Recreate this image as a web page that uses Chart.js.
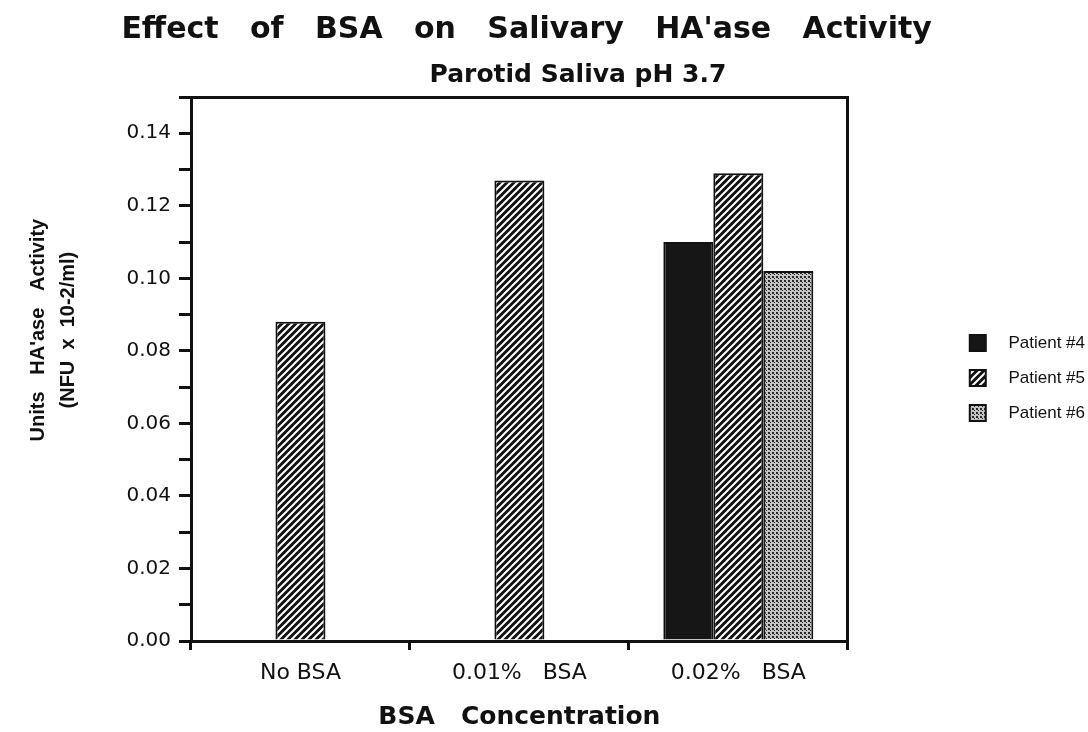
<!DOCTYPE html>
<html>
<head>
<meta charset="utf-8">
<title>Effect of BSA on Salivary HA'ase Activity</title>
<script src="https://cdn.jsdelivr.net/npm/chart.js@4.4.0/dist/chart.umd.min.js"></script>
<style>
    html, body { margin: 0; padding: 0; background: #fff; }
</style>
</head>
<body>
<canvas id="grafica" width="1088" height="732"></canvas>
<script>
// Data
const categorias = ["No BSA", "0.01%   BSA", "0.02%   BSA"];
const pacientes = ["Patient #4", "Patient #5", "Patient #6"];
const paciente4 = [null, null, 0.110];
const paciente5 = [0.088, 0.127, 0.129];
const paciente6 = [null, null, 0.102];
const ejeYMin = 0;
const ejeYMax = 0.15;
const ejeYPaso = 0.01;

// Fill patterns like the printed original
function patronRayas() {
    const c = document.createElement("canvas");
    c.width = 7; c.height = 7;
    const g = c.getContext("2d");
    g.fillStyle = "#111";
    g.fillRect(0, 0, 7, 7);
    g.strokeStyle = "#fff";
    g.lineWidth = 2;
    g.beginPath();
    g.moveTo(-1, 8); g.lineTo(8, -1);
    g.moveTo(-1, 1); g.lineTo(1, -1);
    g.moveTo(6, 8); g.lineTo(8, 6);
    g.stroke();
    return g.createPattern(c, "repeat");
}

function patronPuntos() {
    const c = document.createElement("canvas");
    c.width = 4; c.height = 4;
    const g = c.getContext("2d");
    g.fillStyle = "#c4c4c4";
    g.fillRect(0, 0, 4, 4);
    g.fillStyle = "#2a2a2a";
    g.fillRect(0, 0, 2, 2);
    g.fillRect(2, 2, 1, 1);
    return g.createPattern(c, "repeat");
}

Chart.defaults.font.family = "'DejaVu Sans', sans-serif";
Chart.defaults.color = "#111";

const negro = "#111";

new Chart(document.getElementById("grafica"), {
    type: "bar",
    data: {
        labels: categorias,
        datasets: [
            { label: pacientes[0], data: paciente4, backgroundColor: "#161616", borderColor: negro, borderWidth: 2 },
            { label: pacientes[1], data: paciente5, backgroundColor: patronRayas(), borderColor: negro, borderWidth: 2 },
            { label: pacientes[2], data: paciente6, backgroundColor: patronPuntos(), borderColor: negro, borderWidth: 2 }
        ]
    },
    options: {
        responsive: false,
        animation: false,
        layout: { padding: { left: 0, top: 0, bottom: 0, right: -7 } },
        datasets: {
            bar: { categoryPercentage: 0.685, barPercentage: 1.0 }
        },
        plugins: {
            title: {
                display: true,
                text: "Effect   of   BSA   on   Salivary   HA'ase   Activity    ",
                color: negro,
                font: { size: 30, weight: "bold", lineHeight: 1.2 },
                padding: { top: 12, bottom: 4 }
            },
            subtitle: {
                display: true,
                text: "       Parotid Saliva pH 3.7",
                color: negro,
                font: { size: 25, weight: "bold", lineHeight: 1.2 },
                padding: { top: 8, bottom: 7 }
            },
            legend: {
                position: "right",
                // empty title only nudges the items down a little
                title: {
                    display: true,
                    text: " ",
                    font: { size: 10, lineHeight: 1.2 },
                    padding: { top: 6, bottom: 6 }
                },
                labels: {
                    color: negro,
                    boxWidth: 16,
                    boxHeight: 16,
                    padding: 18,
                    font: { family: "'Liberation Sans', Arial, sans-serif", size: 17 },
                    generateLabels: function (chart) {
                        return Chart.defaults.plugins.legend.labels.generateLabels(chart).map(function (item) {
                            item.text = "   " + item.text;
                            return item;
                        });
                    }
                }
            },
            tooltip: { enabled: false }
        },
        scales: {
            x: {
                grid: {
                    offset: true,
                    drawOnChartArea: false,
                    tickLength: 9,
                    lineWidth: 3,
                    color: negro
                },
                border: { color: negro, width: 3 },
                ticks: { font: { size: 22 }, color: negro, padding: 10 },
                title: {
                    display: true,
                    text: "BSA   Concentration",
                    color: negro,
                    font: { size: 25, weight: "bold", lineHeight: 1.2 },
                    padding: { top: 0, bottom: 0 }
                },
                afterFit: function (escala) { escala.height = 91; }
            },
            // top and right axes only draw the frame of the plot
            xArriba: {
                type: "category",
                position: "top",
                labels: categorias,
                grid: { display: false },
                ticks: { display: false },
                border: { color: negro, width: 3 },
                afterFit: function (escala) { escala.height = 0; }
            },
            y: {
                min: ejeYMin,
                max: ejeYMax,
                grid: {
                    drawOnChartArea: false,
                    tickLength: 12,
                    lineWidth: 3,
                    color: negro
                },
                border: { color: negro, width: 3 },
                ticks: {
                    stepSize: ejeYPaso,
                    autoSkip: false,
                    font: { size: 20 },
                    color: negro,
                    padding: 8,
                    callback: function (v) {
                        const n = Math.round(v * 100);
                        return n % 2 === 0 && n < 15 ? (n / 100).toFixed(2) : "";
                    }
                },
                title: {
                    display: true,
                    text: ["              Units   HA'ase   Activity", "              (NFU  x  10-2/ml)"],
                    color: negro,
                    font: { family: "'Liberation Sans', Arial, sans-serif", size: 20, weight: "bold", lineHeight: 1.5 },
                    padding: { top: 23, bottom: 0 }
                },
                afterFit: function (escala) { escala.width = 191; }
            },
            yDerecha: {
                type: "linear",
                position: "right",
                min: ejeYMin,
                max: ejeYMax,
                grid: { drawOnChartArea: false, drawTicks: false },
                ticks: { display: false },
                border: { color: negro, width: 3 },
                afterFit: function (escala) { escala.width = 104; }
            }
        }
    }
});
</script>
</body>
</html>
